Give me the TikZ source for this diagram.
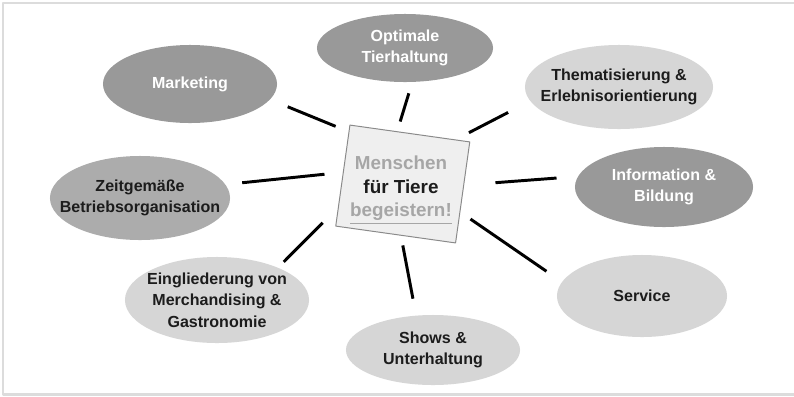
\documentclass[tikz,border=0pt]{standalone}
\usepackage{fontspec}
\setmainfont{Liberation Sans}
\usetikzlibrary{shapes.geometric}

\definecolor{topicdark}{HTML}{999999}
\definecolor{topicmid}{HTML}{ACACAC}
\definecolor{topiclight}{HTML}{D6D6D6}
\definecolor{framegray}{HTML}{DCDCDC}
\definecolor{boxfill}{HTML}{EFEFEF}
\definecolor{boxline}{HTML}{8A8A8A}
\definecolor{mottogray}{HTML}{A6A6A6}
\definecolor{ink}{HTML}{1C1C1C}

\tikzset{
    topic/.style n args={3}{ellipse, fill=#1, inner sep=0pt, minimum width=#2*0.05cm, minimum height=#3*0.05cm},
    topictext/.style={font=\bfseries\fontsize{11.4}{15.4}\selectfont, align=center, inner sep=0pt, text=ink},
    spoke/.style={line width=2.1pt, black},
}

\begin{document}
\begin{tikzpicture}[x=0.025cm, y=-0.025cm, line join=round]
    \useasboundingbox (0,0) rectangle (794,396);
    \fill[white] (3,3) rectangle (794,394.5);
    \draw[framegray, line width=2.1pt] (794,3) -- (3,3) -- (3,394.5) -- (794,394.5);

    % topics round the motto
    \node[topic={topicdark}{87}{39}] (mkt) at (190,84) {};
    \node[topic={topicdark}{88}{34}] (opt) at (405,48) {};
    \node[topic={topiclight}{94}{42}] (them) at (619,87) {};
    \node[topic={topicdark}{89}{40}] (info) at (664,187) {};
    \node[topic={topiclight}{85}{41}] (svc) at (642,296) {};
    \node[topic={topiclight}{87}{35}] (shows) at (433,350) {};
    \node[topic={topiclight}{92}{43}] (eing) at (217,300) {};
    \node[topic={topicmid}{90}{42}] (zeit) at (140,198) {};

    \node[topictext, text=white] (mkt-t) at (mkt) {Marketing};
    \node[topictext, text=white] (opt-t) at (opt) {Optimale\\Tierhaltung};
    \node[topictext] (them-t) at (them) {Thematisierung \&\\Erlebnisorientierung};
    \node[topictext, text=white] (info-t) at (info) {Information \&\\Bildung};
    \node[topictext] (svc-t) at (svc) {Service};
    \node[topictext] (shows-t) at (shows) {Shows \&\\Unterhaltung};
    \node[topictext] (eing-t) at (eing) {Eingliederung von\\Merchandising \&\\Gastronomie};
    \node[topictext] (zeit-t) at (zeit) {Zeitgemäße\\Betriebsorganisation};

    % the motto
    \node[draw=boxline, fill=boxfill, line width=0.7pt, rotate=-8, inner sep=0pt,
          minimum width=121*0.025cm, minimum height=102*0.025cm] (ctr) at (402.75,184) {};
    \node[font=\bfseries\fontsize{13.4}{16.7}\selectfont, align=center, text=ink] (motto) at (401,190)
        {\textcolor{mottogray}{Menschen}\\für Tiere\\\textcolor{mottogray}{\underline{begeistern!}}};

    \draw[spoke, shorten <=9.9pt, shorten >=13.5pt] (ctr.144) -- (mkt.-11);
    \draw[spoke, shorten <=7.2pt, shorten >=8.3pt] (ctr.104) -- (opt.-78);
    \draw[spoke, shorten <=10.5pt, shorten >=17.6pt] (ctr.48) -- (them.189);
    \draw[spoke, shorten <=22.3pt, shorten >=15.2pt] (ctr.7) -- (info.173);
    \draw[spoke, shorten <=8.7pt, shorten >=13.3pt] (ctr.-18) -- (svc.170);
    \draw[spoke, shorten <=7pt, shorten >=12.1pt] (ctr.-84) -- (shows.116);
    \draw[spoke, shorten <=15.2pt, shorten >=5.7pt] (ctr.-152) -- (eing.28);
    \draw[spoke, shorten <=13.1pt, shorten >=11.9pt] (ctr.177) -- (zeit.9);
\end{tikzpicture}
\end{document}
